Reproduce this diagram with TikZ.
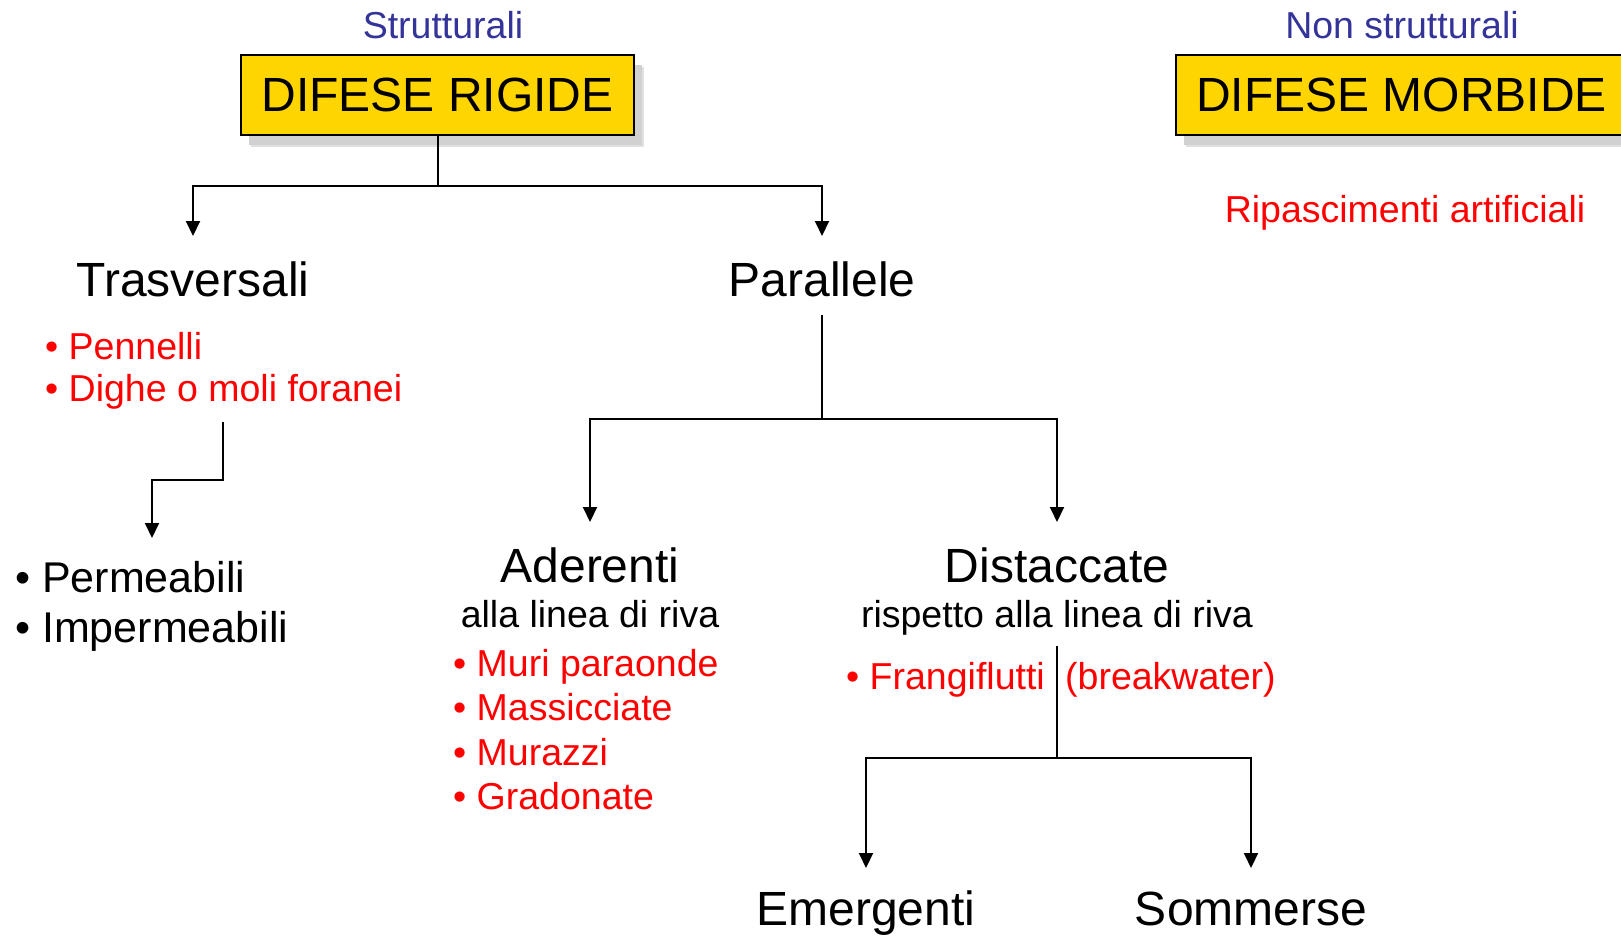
\documentclass[tikz,border=0pt]{standalone}
\usepackage{fontspec}
\setmainfont{Liberation Sans}
\usetikzlibrary{arrows.meta,shadows}
\definecolor{boxyellow}{RGB}{255,213,0}
\definecolor{titleblue}{RGB}{51,51,153}
\definecolor{listred}{RGB}{255,0,0}
\tikzset{
  defbox/.style={draw=black, line width=1.5pt, fill=boxyellow, inner sep=0pt,
    minimum height=80pt, font=\fontsize{48}{58}\selectfont,
    drop shadow={shadow xshift=10pt, shadow yshift=-12pt, opacity=.12, fill=black},
    drop shadow={shadow xshift=8pt, shadow yshift=-10pt, opacity=1, fill=black!18}},
  bigtext/.style={font=\fontsize{48}{58}\selectfont, inner sep=0pt, anchor=base},
  midtext/.style={font=\fontsize{37.5}{45}\selectfont, inner sep=0pt, anchor=base},
  captext/.style={midtext, text=titleblue},
  redlist/.style={midtext, text=listred, anchor=base west},
  blacklist/.style={font=\fontsize{43}{51}\selectfont, inner sep=0pt, anchor=base west},
  link/.style={line width=2pt},
  arr/.style={link, -{Triangle[width=14pt,length=15pt]}}
}
\begin{document}
\begin{tikzpicture}[x=1pt, y=-1pt]
  \useasboundingbox (0,0) rectangle (1621,938);
  % boxes and titles
  \node[defbox, minimum width=393pt] (rigide) at (437.5,95) {DIFESE RIGIDE};
  \node[defbox, minimum width=451pt] (morbide) at (1401.5,95) {DIFESE MORBIDE};
  \node[captext] (strutt) at (443,38) {Strutturali};
  \node[captext] (nonstrutt) at (1402,38) {Non strutturali};
  \node[midtext, text=listred] (ripasc) at (1405,222) {Ripascimenti artificiali};
  % first level
  \node[bigtext] (trasv) at (193,296) {Trasversali};
  \node[bigtext] (parall) at (822,296) {Parallele};
  \node[redlist] (pennelli) at (45,359) {• Pennelli};
  \node[redlist] (dighe) at (45,401) {• Dighe o moli foranei};
  \node[blacklist] (perm) at (15,592) {• Permeabili};
  \node[blacklist] (imperm) at (15,642) {• Impermeabili};
  % second level
  \node[bigtext] (aderenti) at (590,582) {Aderenti};
  \node[midtext] (aderentisub) at (590,627) {alla linea di riva};
  \node[bigtext] (distacc) at (1057,582) {Distaccate};
  \node[midtext] (distaccsub) at (1057,627) {rispetto alla linea di riva};
  \node[redlist] (muri) at (453,676) {• Muri paraonde};
  \node[redlist] (massic) at (453,720) {• Massicciate};
  \node[redlist] (murazzi) at (453,765) {• Murazzi};
  \node[redlist] (gradon) at (453,809) {• Gradonate};
  \node[redlist] (frangi) at (846,689) {• Frangiflutti};
  \node[redlist] (breakw) at (1065,689) {(breakwater)};
  % third level
  \node[bigtext] (emerg) at (866,925) {Emergenti};
  \node[bigtext] (sommer) at (1251,925) {Sommerse};
  % junctions
  \coordinate (rjoin) at (437.5,186);
  \coordinate (trasvin) at (193,236);
  \coordinate (parallin) at (822,236);
  \coordinate (dout) at (223,422);
  \coordinate (permin) at (152,538);
  \coordinate (pout) at (822,315);
  \coordinate (pjoin) at (822,419);
  \coordinate (aderin) at (590,522);
  \coordinate (distin) at (1057,522);
  \coordinate (fout) at (1057,646);
  \coordinate (fjoin) at (1057,758);
  \coordinate (emergin) at (866,868);
  \coordinate (sommin) at (1251,868);
  % connectors
  \draw[link] (rigide.south) -- (rjoin);
  \draw[arr] (rjoin) -| (trasvin);
  \draw[arr] (rjoin) -| (parallin);
  \draw[arr] (dout) -- ++(0,58) -| (permin);
  \draw[link] (pout) -- (pjoin);
  \draw[arr] (pjoin) -| (aderin);
  \draw[arr] (pjoin) -| (distin);
  \draw[link] (fout) -- (fjoin);
  \draw[arr] (fjoin) -| (emergin);
  \draw[arr] (fjoin) -| (sommin);
\end{tikzpicture}
\end{document}
